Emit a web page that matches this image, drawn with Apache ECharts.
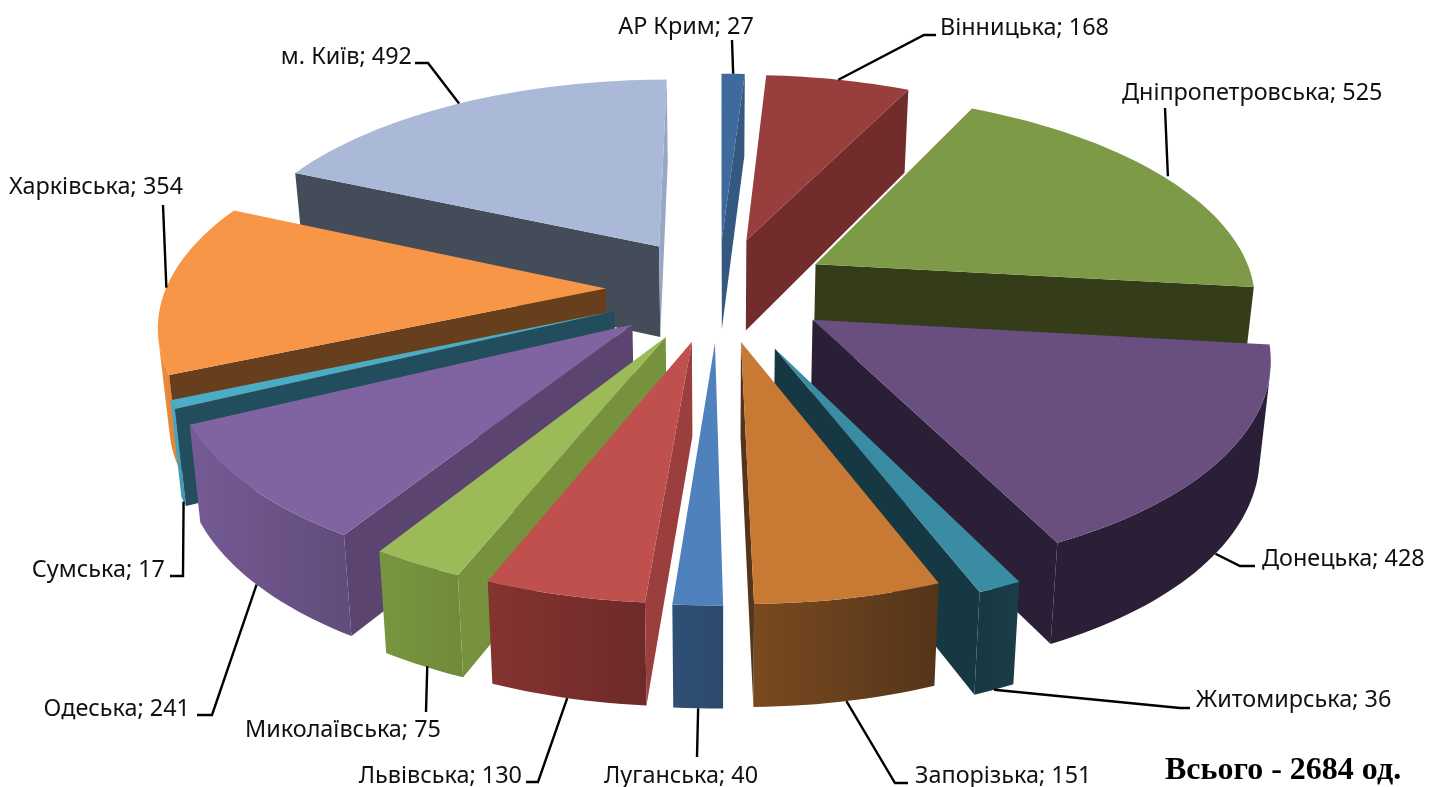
<!DOCTYPE html>
<html>
<head>
<meta charset="utf-8">
<style>html,body{margin:0;background:#fff}#main{width:1445px;height:787px}</style>
<script src="https://cdn.jsdelivr.net/npm/echarts@6/dist/echarts.min.js"></script>
</head>
<body>
<div id="main"></div>
<script>
var regions = ['АР Крим', 'Вінницька', 'Дніпропетровська', 'Донецька', 'Житомирська', 'Запорізька', 'Луганська', 'Львівська', 'Миколаївська', 'Одеська', 'Сумська', 'Харківська', 'м. Київ'];
var counts = [27, 168, 525, 428, 36, 151, 40, 130, 75, 241, 17, 354, 492];
var totalText = 'Всього - 2684 од.';

// кольори: верх, бічні грані, зовнішня стінка
var topColors = ['#3e6a9e', '#983e3c', '#7d9a47', '#684f80', '#3a8ca3', '#c87a35', '#4f81bd', '#c0504d', '#9bbb59', '#8064a2', '#4bacc6', '#f79646', '#a9b9d7'];
var startWalls = ['#34587f', '#722c2b', '#333c18', '#2a1f36', '#163842', '#54341a', '#2f4f75', '#9a3f3d', '#76923d', '#5b4470', '#224d5c', '#683f1d', '#444c59'];
var endWalls = ['#34587f', '#722c2b', '#343c19', '#2a1f36', '#163842', '#54341a', '#3d6a9e', '#9a3f3d', '#76923d', '#5b4470', '#224d5c', '#683f1d', '#97a8c4'];
var outerLeft = ['#34587f', '#722c2b', '#343c19', '#2a1f36', '#163842', '#7a4a1f', '#2f4f75', '#85332f', '#78963f', '#755a95', '#4bacc6', '#f08c3c', '#8494ae'];
var outerRight = ['#34587f', '#722c2b', '#343c19', '#2a1f36', '#1a3d48', '#54341a', '#2c4a6c', '#6e2a2a', '#6f8a3a', '#614c7a', '#3d96ae', '#e0823a', '#8494ae'];

// положення підписів: текст, злам лінії-виноски, зсув початку виноски
var labelLayout = [
    {x: 686, y: 27, align: 'center', knee: [[732, 40]]},
    {x: 940, y: 28, align: 'left', knee: [[924, 35], [936, 35]]},
    {x: 1122, y: 93, align: 'left', knee: [[1165, 108]], dx: 5},
    {x: 1262, y: 559, align: 'left', knee: [[1240, 566], [1255, 566]]},
    {x: 1196, y: 700, align: 'left', knee: [[1180, 708], [1190, 708]]},
    {x: 915, y: 776, align: 'left', knee: [[895, 783], [908, 783]]},
    {x: 681, y: 776, align: 'center', knee: [[697, 757]]},
    {x: 522, y: 776, align: 'right', knee: [[538, 782], [526, 782]]},
    {x: 343, y: 730, align: 'center', knee: [[426, 712]], dx: 4},
    {x: 190, y: 709, align: 'right', knee: [[212, 715], [197, 715]]},
    {x: 165, y: 570, align: 'right', knee: [[183, 576], [170, 576]]},
    {x: 96, y: 187, align: 'center', knee: [[163, 205]]},
    {x: 412, y: 57, align: 'right', knee: [[428, 63], [415, 63]]}
];

// параметри вигляду діаграми
var centerX = 718.5, centerY = 288.8, radiusX = 440, radiusY = 204;
var explode = [0.256, 0.256, 0.256, 0.256, 0.306, 0.256, 0.256, 0.256, 0.256, 0.256, 0.256, 0.256, 0.256];
var persp = 0.152;
var depthBase = 92.5, depthSlope = 8.4, bottomShrink = 0.98;

var total = counts.reduce(function (a, b) { return a + b; }, 0);
var startAngles = [];
counts.reduce(function (sum, v, i) { startAngles[i] = sum / total * Math.PI * 2; return sum + v; }, 0);

function project(wx, wy, bottom) {
    var s = 1 / (1 - persp * wy);
    var x = centerX + radiusX * wx * s;
    var y = centerY + radiusY * wy * s;
    if (bottom) {
        x = centerX + (x - centerX) * bottomShrink;
        y = y + depthBase + depthSlope * wy;
    }
    return [x, y];
}

function sliceGeom(i) {
    var a0 = startAngles[i], da = counts[i] / total * Math.PI * 2, mid = a0 + da / 2;
    var ox = explode[i] * Math.sin(mid), oy = -explode[i] * Math.cos(mid);
    var steps = Math.max(2, Math.ceil(da / 0.025));
    var arc = [];
    for (var k = 0; k <= steps; k++) {
        var a = a0 + da * k / steps;
        arc.push([ox + Math.sin(a), oy - Math.cos(a)]);
    }
    return {arc: arc, apex: [ox, oy], mid: mid, ox: ox, oy: oy};
}

function area(pts) {
    var s = 0;
    for (var i = 0; i < pts.length; i++) {
        var p = pts[i], q = pts[(i + 1) % pts.length];
        s += p[0] * q[1] - q[0] * p[1];
    }
    return s;
}

function wall(p, q) {
    return [project(p[0], p[1]), project(q[0], q[1]), project(q[0], q[1], true), project(p[0], p[1], true)];
}

function poly(points, fill, z2) {
    return {type: 'polygon', z2: z2, shape: {points: points}, style: {fill: fill, stroke: null}};
}

function renderSlice(params, api) {
    var i = api.value(0);
    var g = sliceGeom(i);
    var z = api.value(2) * 10;
    var children = [];

    // зовнішня стінка: лише видимі сегменти
    var seen = [];
    for (var k = 0; k < g.arc.length - 1; k++) {
        if (area(wall(g.arc[k], g.arc[k + 1])) < 0) {
            if (!seen.length) seen.push(g.arc[k]);
            seen.push(g.arc[k + 1]);
        }
    }
    if (seen.length) {
        var upper = seen.map(function (p) { return project(p[0], p[1]); });
        var lower = seen.map(function (p) { return project(p[0], p[1], true); }).reverse();
        children.push(poly(upper.concat(lower), {
            type: 'linear', x: 0, y: 0, x2: 1, y2: 0,
            colorStops: [{offset: 0, color: outerLeft[i]}, {offset: 1, color: outerRight[i]}]
        }, z));
    }

    // бічні грані
    var first = wall(g.apex, g.arc[0]);
    if (area(first) < 0) children.push(poly(first, startWalls[i], z));
    var last = wall(g.arc[g.arc.length - 1], g.apex);
    if (area(last) < 0) children.push(poly(last, endWalls[i], z));

    // верхня грань
    var topPts = [project(g.apex[0], g.apex[1])].concat(g.arc.map(function (p) { return project(p[0], p[1]); }));
    children.push(poly(topPts, topColors[i], z + 1));

    // виноска і підпис
    var lay = labelLayout[i];
    var wx = g.ox + Math.sin(g.mid), wy = g.oy - Math.cos(g.mid);
    var anchor = project(wx, wy, Math.cos(g.mid) < 0);
    anchor[0] += lay.dx || 0;
    children.push({
        type: 'polyline', z2: 500,
        shape: {points: [anchor].concat(lay.knee)},
        style: {stroke: '#000', lineWidth: 2.4, fill: null}
    });
    children.push({
        type: 'text', z2: 501,
        style: {
            x: lay.x, y: lay.y, text: regions[i] + '; ' + api.value(1),
            align: lay.align, verticalAlign: 'middle', fill: '#111',
            font: '23.4px "Noto Sans", sans-serif'
        }
    });
    return {type: 'group', children: children};
}

// порядок малювання: від дальніх секторів до ближніх
var order = counts.map(function (v, i) { return i; }).sort(function (a, b) {
    return Math.cos(sliceGeom(b).mid) - Math.cos(sliceGeom(a).mid);
});
var rank = [];
order.forEach(function (idx, r) { rank[idx] = r + 1; });

var myChart = echarts.init(document.getElementById('main'));
myChart.setOption({
    animation: false,
    backgroundColor: '#fff',
    title: {
        text: totalText, left: 1165, top: 755, padding: 0,
        textStyle: {fontFamily: '"Liberation Serif"', fontWeight: 'bold', fontSize: 32, color: '#000'}
    },
    series: [{
        type: 'custom',
        coordinateSystem: 'none',
        renderItem: renderSlice,
        encode: {itemName: 3},
        data: order.map(function (idx) { return [idx, counts[idx], rank[idx], regions[idx]]; })
    }]
});
</script>
</body>
</html>
